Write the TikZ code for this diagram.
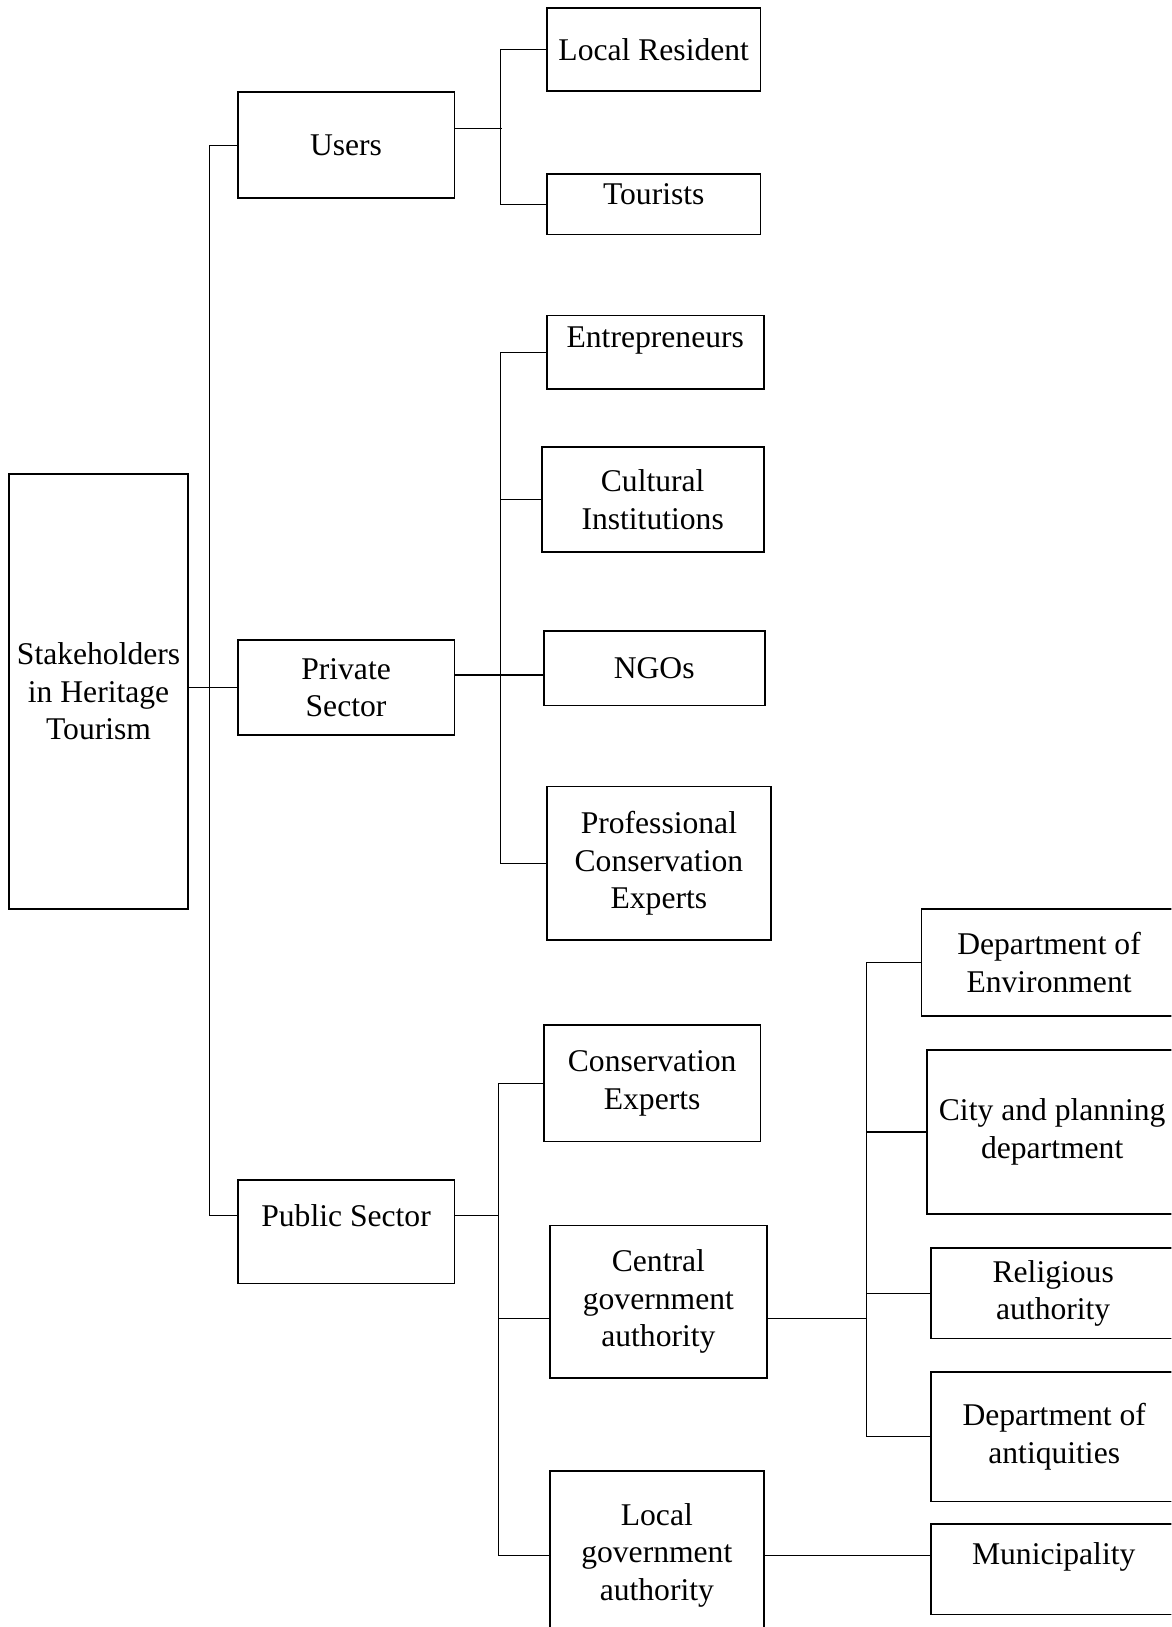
\documentclass[tikz,border=0pt]{standalone}
\usepackage{fontspec}
\setmainfont{Liberation Serif}
\usepackage{tikz}
\usetikzlibrary{positioning,calc}
\newcommand{\unitpx}{0.5186pt}

\begin{document}
\begin{tikzpicture}[
  x=0.5186pt, y=-0.5186pt,
  box/.style={draw, line width=0.9pt, align=center, inner sep=2pt,
    font=\fontsize{15.8}{18.7}\selectfont},
  sz/.style 2 args={minimum width=#1*\unitpx, minimum height=#2*\unitpx},
  raised/.style={text depth=#1},
  link/.style={line width=0.6pt}
]
\useasboundingbox (0,0) rectangle (1129,1568);
\clip (0,0) rectangle (1129,1568);
% root and the three groups
\node[box, sz={172}{419}] (Root) at (95,666.5) {Stakeholders\\in Heritage\\Tourism};
\node[box, sz={209}{102}] (Users) at (333.5,140) {Users};
\node[box, sz={209}{91}] (Pri) at (333.5,662.5) {Private\\Sector};
\node[box, sz={209}{100}, raised=16.6pt] (Pub) at (333.5,1187) {Public Sector};
% users
\node[box, sz={206}{80}] (LR) at (630,48) {Local Resident};
\node[box, sz={206}{58}, raised=10.4pt] (Tour) at (630,197) {Tourists};
% private sector
\node[box, sz={209}{71}, raised=15pt] (Ent) at (631.5,339.5) {Entrepreneurs};
\node[box, sz={214}{101}] (Cult) at (629,481.5) {Cultural\\Institutions};
\node[box, sz={213}{72}] (NGO) at (630.5,644) {NGOs};
\node[box, sz={216}{148}] (Prof) at (635,832) {Professional\\Conservation\\Experts};
% public sector
\node[box, sz={209}{112}] (CE) at (628.5,1044) {Conservation\\Experts};
\node[box, sz={209}{147}] (Cent) at (634.5,1254.5) {Central\\government\\authority};
\node[box, sz={206}{162}] (Loc) at (633,1499) {Local\\government\\authority};
% central government
\node[box, sz={246}{103}] (Env) at (1011,927.5) {Department of\\Environment};
\node[box, sz={242}{158}] (City) at (1014,1091) {City and planning\\department};
\node[box, sz={236}{87}] (Rel) at (1015,1246.5) {Religious\\authority};
\node[box, sz={238}{125}] (Ant) at (1016,1384.5) {Department of\\antiquities};
% local government
\node[box, sz={237}{87}, raised=16pt] (Mun) at (1015.5,1512.5) {Municipality};

% trunk
\draw[link] (Root.east |- Pri.west) -- (Pri.west);
\coordinate (pw) at ($(Pub.mid west)+(0,-6)$);
\coordinate (pe2) at ($(Pub.mid east)+(0,-6)$);
\draw[link] (Users.west) -- ++(-26,0) coordinate (trk) -- (trk |- pw) -- (pw);
% users branch
\draw[link] ($(Users.east)+(0,-16)$) -- ++(45,0);
\draw[link] (LR.west) -- ++(-44,0) |- (Tour.west);
% private branch
\draw[link] (Ent.west) -- ++(-44,0) coordinate (pb) |- (Prof.west);
\draw[link] (Cult.west) -- (Cult.west -| pb);
\draw[link] ($(Pri.east)+(0,-12)$) coordinate (pe) -- (pe -| NGO.west);
% public branch
\draw[link] (CE.west) -- ++(-43,0) coordinate (qb) |- (Loc.west);
\draw[link] (pe2) -- (pe2 -| qb);
\draw[link] ($(Cent.west)+(0,16.5)$) coordinate (cw) -- (cw -| qb);
% central government branch
\draw[link] (Env.west) -- ++(-52,0) coordinate (gb) |- (Ant.west);
\draw[link] (City.west) -- (City.west -| gb);
\draw[link] (Rel.west) -- (Rel.west -| gb);
\draw[link] ($(Cent.east)+(0,16.5)$) coordinate (ce) -- (ce -| gb);
% local government branch
\draw[link] (Loc.east) -- (Loc.east -| Mun.west);
\end{tikzpicture}
\end{document}
